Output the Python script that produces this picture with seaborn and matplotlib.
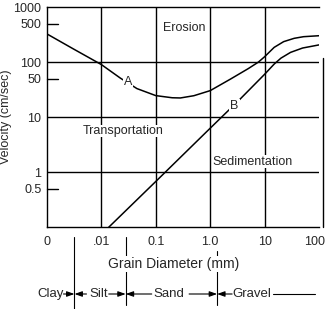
import matplotlib
matplotlib.use("Agg")
import matplotlib.pyplot as plt
import matplotlib.transforms as mtransforms
import seaborn as sns
import numpy as np

# ---- data ----
curve_a_x = [0.001, 0.003, 0.01, 0.0224, 0.045, 0.1, 0.2, 0.283, 0.5, 1.0, 2.35, 5.0, 7.7, 10, 15, 22.4, 35, 52, 100]
curve_a_y = [324, 175, 90, 51, 33, 24.6, 22.5, 22.3, 24.5, 30.3, 49, 76, 100, 125, 185, 235, 270, 289, 301]
curve_b_x = [0.0136, 0.1, 1.0, 3.5, 10, 15, 20, 30, 50, 100]
curve_b_y = [0.1, 0.68, 6.3, 21, 60, 92, 118, 150, 180, 205]

x_ticks = [0.001, 0.01, 0.1, 1.0, 10, 100]
x_tick_labels = ["0", ".01", "0.1", "1.0", "10", "100"]
y_ticks = [0.5, 1, 10, 50, 100, 500, 1000]
y_tick_labels = ["0.5", "1", "10", "50", "100", "500", "1000"]
grid_x = [0.01, 0.1, 1.0, 10]
grid_y = [1, 10, 100]
minor_y = [0.5, 50, 500]

class_names = ["Clay", "Silt", "Sand", "Gravel"]
class_bounds = [0.0032, 0.028, 1.34]

sns.set_style("white")
plt.rcParams["font.family"] = ["Liberation Sans", "DejaVu Sans"]

W, H = 326, 309
fig = plt.figure(figsize=(W / 100, H / 100), dpi=100)
L, R, T, B = 47, 319, 7, 227.3
ax = fig.add_axes([L / W, 1 - B / H, (R - L) / W, (B - T) / H])
ax.set_xscale("log")
ax.set_yscale("log")
ax.set_xlim(0.001, 100)
ax.set_ylim(0.1, 1000)

lw = 1.0
for gx in grid_x:
    ax.axvline(gx, color="black", lw=lw, zorder=1)
for gy in grid_y:
    ax.axhline(gy, color="black", lw=lw, zorder=1)

sns.lineplot(x=curve_a_x, y=curve_a_y, ax=ax, color="black", lw=1.1,
             sort=False, estimator=None, zorder=3)
sns.lineplot(x=curve_b_x, y=curve_b_y, ax=ax, color="black", lw=1.1,
             sort=False, estimator=None, zorder=3)

fs = 9
bbox = dict(facecolor="white", edgecolor="none", pad=0.6)
ax.text(0.031, 43, "A", ha="center", va="center", fontsize=fs, bbox=bbox, zorder=4)
ax.text(2.8, 16, "B", ha="center", va="center", fontsize=fs, bbox=bbox, zorder=4)
ax.text(0.336, 416, "Erosion", ha="center", va="center", fontsize=fs)
ax.text(0.0248, 5.6, "Transportation", ha="center", va="center", fontsize=fs,
        bbox=dict(facecolor="white", edgecolor="none", pad=0.3), zorder=4)
ax.text(5.9, 1.56, "Sedimentation", ha="center", va="center", fontsize=fs,
        bbox=dict(facecolor="white", edgecolor="none", pad=0.3), zorder=4)

# axes frame
for side in ["left", "bottom", "top"]:
    ax.spines[side].set_linewidth(lw)
    ax.spines[side].set_color("black")
ax.spines["right"].set_visible(False)
ax.plot([1.013, 1.013], [0, 0.768], transform=ax.transAxes, color="black",
        lw=lw, clip_on=False)

ax.set_xticks(x_ticks)
ax.set_xticklabels(x_tick_labels)
ax.set_yticks(y_ticks)
ax.set_yticklabels(y_tick_labels)
ax.minorticks_off()
ax.tick_params(axis="x", length=0, pad=6, labelsize=9)
ax.tick_params(axis="y", length=0, pad=4, labelsize=9)
last = ax.get_xticklabels()[-1]
last.set_transform(last.get_transform() + mtransforms.ScaledTranslation(-4 / 100, 0, fig.dpi_scale_trans))
for my in minor_y:
    ax.plot([0, 0.04], [my, my], transform=mtransforms.blended_transform_factory(ax.transAxes, ax.transData),
            color="black", lw=lw, clip_on=False)

ax.set_ylabel("Velocity (cm/sec)", fontsize=9, labelpad=1)

# grain-size classification below the axis
bt = mtransforms.blended_transform_factory(ax.transData, ax.transAxes)
def ay(py):
    return (B - py) / (B - T)

ax.text(0.21, ay(264), "Grain Diameter (mm)", transform=bt, ha="center", va="center",
        fontsize=10, bbox=dict(facecolor="white", edgecolor="none", pad=0.5), zorder=5)

line_spans = [(237, 309), (237, 305), (251, 305)]
for xb, (y0, y1) in zip(class_bounds, line_spans):
    ax.plot([xb, xb], [ay(y0), ay(y1)], transform=bt, color="black", lw=0.8,
            clip_on=False, zorder=2)

row = ay(294)
label_pos = [0.00115, 0.0089, 0.174, 5.7]
for name, xp in zip(class_names, label_pos):
    ax.text(xp, row, name, transform=bt, ha="center", va="center", fontsize=9.5)

px = 0.72
arrows = [(0, -11), (0, 12), (1, -17), (1, 26), (2, -28), (2, 15)]
for idx, off in arrows:
    ax.annotate("", xy=(class_bounds[idx], row), xycoords=bt,
                xytext=(off * px, 0), textcoords="offset points",
                arrowprops=dict(arrowstyle="-|>,head_length=0.45,head_width=0.16",
                                color="black", lw=0.8, shrinkA=0, shrinkB=0,
                                mutation_scale=10),
                annotation_clip=False)
# trailing line after Gravel
ax.plot([14.5, 86], [row, row], transform=bt, color="black", lw=0.8, clip_on=False)

fig.savefig("out.png", dpi=100)
